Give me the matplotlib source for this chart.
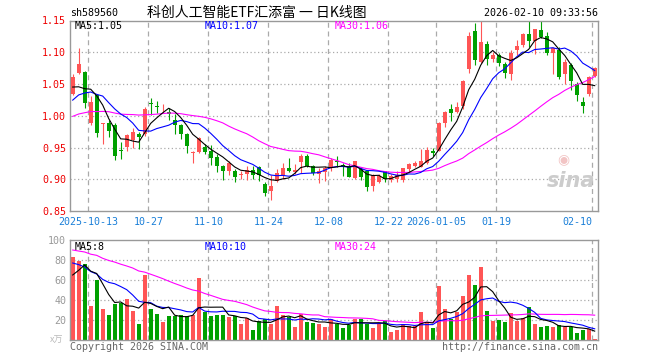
import matplotlib.pyplot as plt
import pandas as pd

# daily candles, 2025-10-09 .. 2026-02-10 (88 sessions)
open_ = [1.035, 1.067, 1.069, 0.988, 1.032, 0.987, 0.988, 0.986, 0.946, 0.951,
         0.962, 0.972, 0.971, 1.020, 1.015, 1.013, 1.006, 0.993, 0.985, 0.971,
         0.942, 0.943, 0.951, 0.944, 0.935, 0.921, 0.913, 0.913, 0.906, 0.909,
         0.915, 0.919, 0.892, 0.881, 0.898, 0.907, 0.917, 0.912, 0.927, 0.936,
         0.921, 0.908, 0.912, 0.917, 0.929, 0.923, 0.921, 0.902, 0.916, 0.913,
         0.889, 0.896, 0.913, 0.899, 0.901, 0.899, 0.916, 0.921, 0.920, 0.925,
         0.944, 0.945, 0.989, 1.010, 1.006, 1.015, 1.073, 1.133, 1.085, 1.113,
         1.089, 1.096, 1.082, 1.066, 1.104, 1.111, 1.129, 1.117, 1.135, 1.125,
         1.099, 1.104, 1.066, 1.080, 1.050, 1.021, 1.035, 1.063]
high = [1.066, 1.106, 1.070, 1.031, 1.034, 0.989, 0.993, 0.988, 0.958, 0.972,
        0.980, 0.974, 1.014, 1.028, 1.024, 1.018, 1.012, 1.002, 0.987, 0.973,
        0.945, 0.967, 0.955, 0.954, 0.939, 0.922, 0.929, 0.916, 0.913, 0.921,
        0.921, 0.921, 0.896, 0.906, 0.916, 0.925, 0.934, 0.924, 0.939, 0.939,
        0.922, 0.917, 0.921, 0.934, 0.936, 0.925, 0.926, 0.929, 0.919, 0.913,
        0.909, 0.909, 0.913, 0.909, 0.913, 0.918, 0.925, 0.928, 0.948, 0.951,
        0.950, 0.990, 1.007, 1.018, 1.022, 1.056, 1.132, 1.146, 1.149, 1.117,
        1.101, 1.099, 1.085, 1.103, 1.119, 1.131, 1.150, 1.137, 1.149, 1.132,
        1.109, 1.109, 1.089, 1.083, 1.053, 1.029, 1.062, 1.076]
low = [1.033, 1.065, 1.012, 0.985, 0.967, 0.955, 0.967, 0.931, 0.932, 0.945,
       0.950, 0.947, 0.968, 1.001, 1.004, 1.005, 0.994, 0.971, 0.963, 0.942,
       0.926, 0.941, 0.939, 0.922, 0.911, 0.899, 0.906, 0.895, 0.900, 0.899,
       0.901, 0.898, 0.873, 0.867, 0.895, 0.900, 0.912, 0.908, 0.910, 0.919,
       0.907, 0.894, 0.898, 0.913, 0.920, 0.905, 0.903, 0.901, 0.899, 0.881,
       0.881, 0.894, 0.895, 0.896, 0.896, 0.896, 0.911, 0.919, 0.919, 0.924,
       0.937, 0.944, 0.983, 0.992, 1.004, 1.010, 1.068, 1.080, 1.083, 1.080,
       1.084, 1.078, 1.059, 1.057, 1.096, 1.109, 1.109, 1.098, 1.123, 1.096,
       1.065, 1.058, 1.050, 1.040, 1.024, 1.005, 1.031, 1.061]
close = [1.061, 1.082, 1.020, 1.021, 0.973, 0.988, 0.976, 0.937, 0.944, 0.970,
         0.974, 0.967, 1.011, 1.018, 1.013, 1.014, 1.003, 0.985, 0.971, 0.952,
         0.943, 0.965, 0.943, 0.934, 0.921, 0.913, 0.926, 0.903, 0.908, 0.915,
         0.906, 0.906, 0.879, 0.890, 0.910, 0.918, 0.913, 0.915, 0.936, 0.921,
         0.910, 0.913, 0.917, 0.930, 0.927, 0.919, 0.903, 0.928, 0.903, 0.888,
         0.907, 0.905, 0.900, 0.905, 0.906, 0.917, 0.924, 0.926, 0.929, 0.946,
         0.942, 0.989, 1.006, 1.005, 1.014, 1.055, 1.125, 1.088, 1.116, 1.089,
         1.096, 1.083, 1.068, 1.099, 1.110, 1.129, 1.117, 1.136, 1.124, 1.099,
         1.106, 1.061, 1.085, 1.054, 1.032, 1.015, 1.061, 1.075]
# volume, 万
volume = [83, 78.7, 76.3, 34.3, 60.3, 31.3, 25.3, 36.3, 37, 41,
          29.3, 16, 65.3, 31.3, 26, 18, 24.3, 24.3, 25.3, 24.3,
          25.3, 62, 28, 24.3, 24.7, 25.3, 23, 23.7, 16, 22,
          10.3, 18.7, 21.3, 16, 34.3, 25.3, 22.7, 13, 26, 18,
          17, 16, 13, 21.5, 16, 12, 15.3, 21.3, 21.3, 16,
          12, 16, 18.7, 8, 10, 16, 13.7, 13.7, 28, 17.7,
          12, 53.7, 31, 21.3, 28, 44.3, 65.3, 54.7, 73, 29.3,
          19.3, 20.3, 18, 27, 18.7, 22, 33, 16, 13, 13.7,
          13, 15.3, 12.7, 13.5, 7.5, 10.5, 11.5, 1.3]
# sessions before the window, back-solved from where the MA lines start
close_before = [0.970, 0.960, 0.965, 0.975, 0.980, 0.990, 1.000, 0.995, 0.985, 0.980,
                 0.990, 1.000, 1.005, 0.995, 0.985, 0.980, 0.990, 0.995, 1.000, 0.985,
                 1.000, 0.990, 1.005, 1.010, 1.015, 1.080, 1.035, 1.025, 1.025]
vol_before = [110, 105, 100, 95, 120, 90, 85, 100, 95, 90,
              105, 100, 95, 90, 85, 100, 95, 90, 95, 85,
              95, 100, 80, 85, 85, 55, 50, 65, 72]

tick_idx = [3, 13, 23, 33, 43, 53, 61, 71, 87]
tick_lbl = ["2025-10-13", "10-27", "11-10", "11-24", "12-08", "12-22",
            "2026-01-05", "01-19", "02-10"]

RED, GREEN = "#ff5555", "#00a000"
MONO = "DejaVu Sans Mono"
CJK = ["Noto Sans CJK SC", "DejaVu Sans"]

n = len(close)
x = list(range(n))
c_all = pd.Series(close_before + close)
v_all = pd.Series(vol_before + volume)
ma = {k: c_all.rolling(k).mean().values[-n:] for k in (5, 10, 30)}
vma = {k: v_all.rolling(k).mean().values[-n:] for k in (5, 10, 30)}

fig = plt.figure(figsize=(6.6, 3.6), dpi=100)
W, H = 660.0, 360.0
L, R = 70.3, 597.7
ax = fig.add_axes([L / W, 1 - 211 / H, (R - L) / W, (211 - 20.5) / H])
axv = fig.add_axes([L / W, 1 - 340 / H, (R - L) / W, 100 / H], sharex=ax)

# candles
for i in x:
    col = RED if close[i] >= open_[i] else GREEN
    ax.vlines(i, low[i], high[i], color=col, lw=0.8, zorder=2)
    lo = min(open_[i], close[i])
    h = max(abs(close[i] - open_[i]), 0.0012)
    ax.bar(i, h, bottom=lo, width=0.72, color=col, lw=0, zorder=3)
    axv.bar(i, volume[i], width=0.72, color=col, lw=0, zorder=2)

for k, col in ((30, "#ff00ff"), (10, "#0000ff"), (5, "black")):
    ax.plot(x, ma[k], color=col, lw=0.8, zorder=4)
    axv.plot(x, vma[k], color=col, lw=0.8, zorder=4)

ax.set_xlim(-0.4, 87.5)
ax.set_ylim(0.85, 1.15)
axv.set_ylim(0, 100)

grid_x = [t - 0.4 for t in tick_idx]
for a in (ax, axv):
    for gx in grid_x:
        a.axvline(gx, color="#aaaaaa", lw=0.9, ls=(0, (4, 3)), zorder=1)
    for s in a.spines.values():
        s.set_color("#999999")
        s.set_linewidth(1.0)
    a.tick_params(length=0)

for gy in (0.90, 0.95, 1.00, 1.05, 1.10):
    ax.axhline(gy, color="#aaaaaa", lw=0.9, ls=(0, (1, 2)), zorder=1)
for gy in (20, 40, 60, 80):
    axv.axhline(gy, color="#aaaaaa", lw=0.9, ls=(0, (1, 2)), zorder=1)

ax.set_yticks([0.85, 0.90, 0.95, 1.00, 1.05, 1.10, 1.15])
ax.set_yticklabels(["%.2f" % v for v in ax.get_yticks()], family=MONO,
                   fontsize=7.2, color="#ee0000")
ax.tick_params(axis="y", pad=3)
ax.set_xticks(grid_x)
ax.set_xticklabels(tick_lbl, family=MONO, fontsize=7.2, color="#1a7fd8")
ax.get_xticklabels()[-1].set_ha("right")
ax.tick_params(axis="x", pad=4)

axv.set_yticks([20, 40, 60, 80, 100])
axv.set_yticklabels(["20", "40", "60", "80", "100"], family=MONO,
                    fontsize=7.2, color="#999999")
axv.tick_params(axis="y", pad=3)
axv.tick_params(axis="x", labelbottom=False)

# MA captions
ax.text(0.009, 0.972, "MA5:%.2f" % ma[5][-1], transform=ax.transAxes,
        family=MONO, fontsize=7.2, color="black", va="center")
ax.text(0.255, 0.972, "MA10:%.2f" % ma[10][-1], transform=ax.transAxes,
        family=MONO, fontsize=7.2, color="#0000ff", va="center")
ax.text(0.501, 0.972, "MA30:%.2f" % ma[30][-1], transform=ax.transAxes,
        family=MONO, fontsize=7.2, color="#ff00ff", va="center")
axv.text(0.009, 0.93, "MA5:8", transform=axv.transAxes,
         family=MONO, fontsize=7.2, color="black", va="center")
axv.text(0.255, 0.93, "MA10:10", transform=axv.transAxes,
         family=MONO, fontsize=7.2, color="#0000ff", va="center")
axv.text(0.501, 0.93, "MA30:24", transform=axv.transAxes,
         family=MONO, fontsize=7.2, color="#ff00ff", va="center")

# sina watermark
ax.text(0.995, 0.16, "sina", transform=ax.transAxes, ha="right", va="center",
        fontsize=15, weight="bold", style="italic", color="#cccccc", zorder=1)
ax.text(0.935, 0.27, "\u25c9", transform=ax.transAxes, ha="center", va="center",
        fontsize=10, color="#f2c4c4", zorder=1)

fig.text(L / W, 1 - 13.5 / H, "sh589560", family=MONO, fontsize=7.2,
         ha="left", va="center")
fig.text(257 / W, 1 - 12.5 / H, "科创人工智能ETF汇添富 一 日K线图", family=CJK,
         fontsize=10, ha="center", va="center")
fig.text(R / W, 1 - 13.5 / H, "2026-02-10 09:33:56", family=MONO, fontsize=7.2,
         ha="right", va="center")
fig.text(57 / W, 1 - 340 / H, "x万", family=CJK, fontsize=6.5,
         color="#bbbbbb", ha="center", va="center")
fig.text(L / W, 1 - 347 / H, "Copyright 2026 SINA.COM", family=MONO,
         fontsize=7.2, color="#666666", ha="left", va="center")
fig.text(R / W, 1 - 347 / H, "http://finance.sina.com.cn", family=MONO,
         fontsize=7.2, color="#666666", ha="right", va="center")

fig.savefig("out.png", dpi=100)
